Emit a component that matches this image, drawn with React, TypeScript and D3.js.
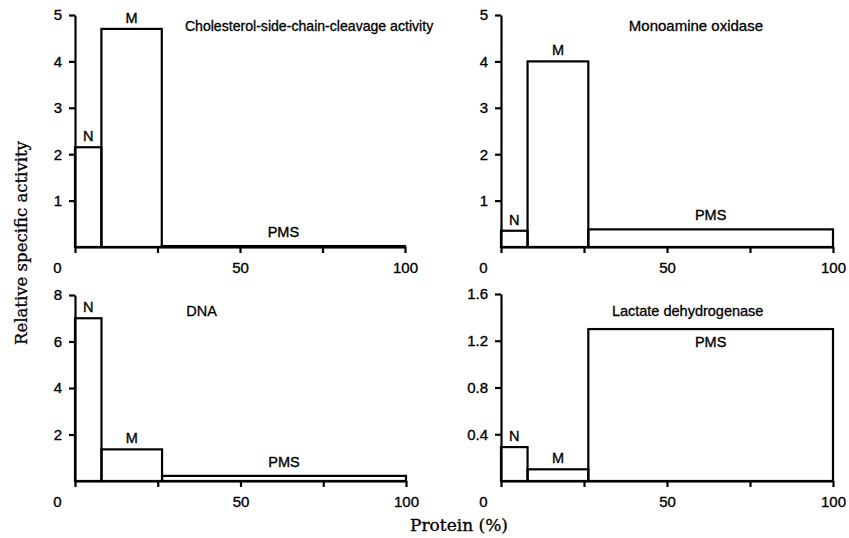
import React, { useEffect, useRef } from 'react';
import * as d3 from 'd3';

// subcellular fractions and their share of total protein (%)
const fractions = ['N', 'M', 'PMS'];
const proteinShare = [8, 18.3, 73.7];

const titles = [
  'Cholesterol-side-chain-cleavage activity',
  'Monoamine oxidase',
  'DNA',
  'Lactate dehydrogenase',
];

// relative specific activity of each fraction (N, M, PMS)
const cholesterolActivity = [2.15, 4.7, 0.02];
const maoActivity = [0.35, 4.0, 0.38];
const dnaActivity = [7.0, 1.36, 0.22];
const ldhActivity = [0.29, 0.1, 1.3];

const yMaxes = [5, 5, 8, 1.6];
const yTicks = [
  [1, 2, 3, 4, 5],
  [1, 2, 3, 4, 5],
  [2, 4, 6, 8],
  [0.4, 0.8, 1.2, 1.6],
];
const xTicks = [0, 25, 50, 75, 100];
const xTickLabels = ['0', '', '50', '', '100'];

const W = 849;
const H = 538;
const SANS = '"Liberation Sans", Arial, Helvetica, sans-serif';
const SERIF = '"DejaVu Serif", serif';

// panel boxes in page pixels, title anchor (x as % protein), PMS label inside?
const layout = [
  { left: 75, right: 405, top: 15, bottom: 247, titleX: 33.3, titleY: 31, titleSize: 14.1, fmt: d3.format('d'), pmsInside: false },
  { left: 501, right: 833, top: 15, bottom: 247, titleX: 38.5, titleY: 31, titleSize: 15, fmt: d3.format('d'), pmsInside: false },
  { left: 75, right: 406, top: 295, bottom: 481, titleX: 33.6, titleY: 316, titleSize: 14.5, fmt: d3.format('d'), pmsInside: false },
  { left: 501, right: 833, top: 294, bottom: 481, titleX: 33.4, titleY: 316, titleSize: 14.5, fmt: d3.format('.1f'), pmsInside: true },
];

export default function App() {
  const ref = useRef<SVGSVGElement>(null);

  useEffect(() => {
    if (!ref.current) return;
    const svg = d3.select(ref.current);
    svg.selectAll('*').remove();

    const series = [cholesterolActivity, maoActivity, dnaActivity, ldhActivity];
    const bounds = [0, ...d3.cumsum(proteinShare)];

    series.forEach((values, i) => {
      const L = layout[i];
      const x = d3.scaleLinear().domain([0, 100]).range([L.left, L.right]);
      const y = d3.scaleLinear().domain([0, yMaxes[i]]).range([L.bottom, L.top]);
      const g = svg.append('g');

      const bars = fractions.map((f, j) => ({ f, x0: bounds[j], x1: bounds[j + 1], v: values[j] }));

      g.selectAll('rect.bar')
        .data(bars)
        .enter()
        .append('rect')
        .attr('class', 'bar')
        .attr('x', d => x(d.x0))
        .attr('y', d => y(d.v))
        .attr('width', d => x(d.x1) - x(d.x0))
        .attr('height', d => y(0) - y(d.v))
        .attr('fill', 'none')
        .attr('stroke', '#000')
        .attr('stroke-width', 2.2);

      g.selectAll('text.lab')
        .data(bars)
        .enter()
        .append('text')
        .attr('class', 'lab')
        .attr('x', d => x((d.x0 + d.x1) / 2))
        .attr('y', d => (d.f === 'PMS' && L.pmsInside ? y(d.v) + 18 : y(d.v) - (d.f === 'PMS' ? 9 : 6)))
        .attr('text-anchor', 'middle')
        .attr('font-family', SANS)
        .attr('font-size', 14.5)
        .attr('stroke', '#000')
        .attr('stroke-width', 0.35)
        .text(d => d.f);

      // axes
      const xAxis = g.append('g')
        .attr('transform', `translate(0,${L.bottom})`)
        .call(d3.axisBottom(x).tickValues(xTicks).tickSize(6).tickSizeOuter(0).tickPadding(9)
          .tickFormat((_, k) => xTickLabels[k]));
      xAxis.selectAll('text')
        .attr('font-family', SANS)
        .attr('font-size', 15)
        .attr('dx', (_, k) => (k === 0 ? -18 : 0));

      const yAxis = g.append('g')
        .attr('transform', `translate(${L.left},0)`)
        .call(d3.axisLeft(y).tickValues(yTicks[i]).tickSize(6).tickSizeOuter(0).tickPadding(7)
          .tickFormat(d => L.fmt(d as number)));
      yAxis.selectAll('text')
        .attr('font-family', SANS)
        .attr('font-size', 15);

      [xAxis, yAxis].forEach(a => {
        a.selectAll('path,line').attr('stroke', '#000').attr('stroke-width', 2.2);
        a.selectAll('text').attr('stroke', '#000').attr('stroke-width', 0.35);
        a.attr('font-family', SANS);
      });

      g.append('text')
        .attr('x', x(L.titleX))
        .attr('y', L.titleY)
        .attr('font-family', SANS)
        .attr('font-size', L.titleSize)
        .attr('stroke', '#000')
        .attr('stroke-width', 0.3)
        .text(titles[i]);
    });

    svg.append('text')
      .attr('transform', 'translate(27,243) rotate(-90)')
      .attr('text-anchor', 'middle')
      .attr('font-family', SERIF)
      .attr('font-size', 16.5)
      .attr('stroke', '#000')
      .attr('stroke-width', 0.3)
      .text('Relative specific activity');

    svg.append('text')
      .attr('x', 459)
      .attr('y', 531)
      .attr('text-anchor', 'middle')
      .attr('font-family', SERIF)
      .attr('font-size', 17)
      .attr('stroke', '#000')
      .attr('stroke-width', 0.3)
      .text('Protein (%)');
  }, []);

  return (
    <svg
      ref={ref}
      width={W}
      height={H}
      style={{ position: 'absolute', left: 0, top: 0, background: '#fff' }}
    />
  );
}
